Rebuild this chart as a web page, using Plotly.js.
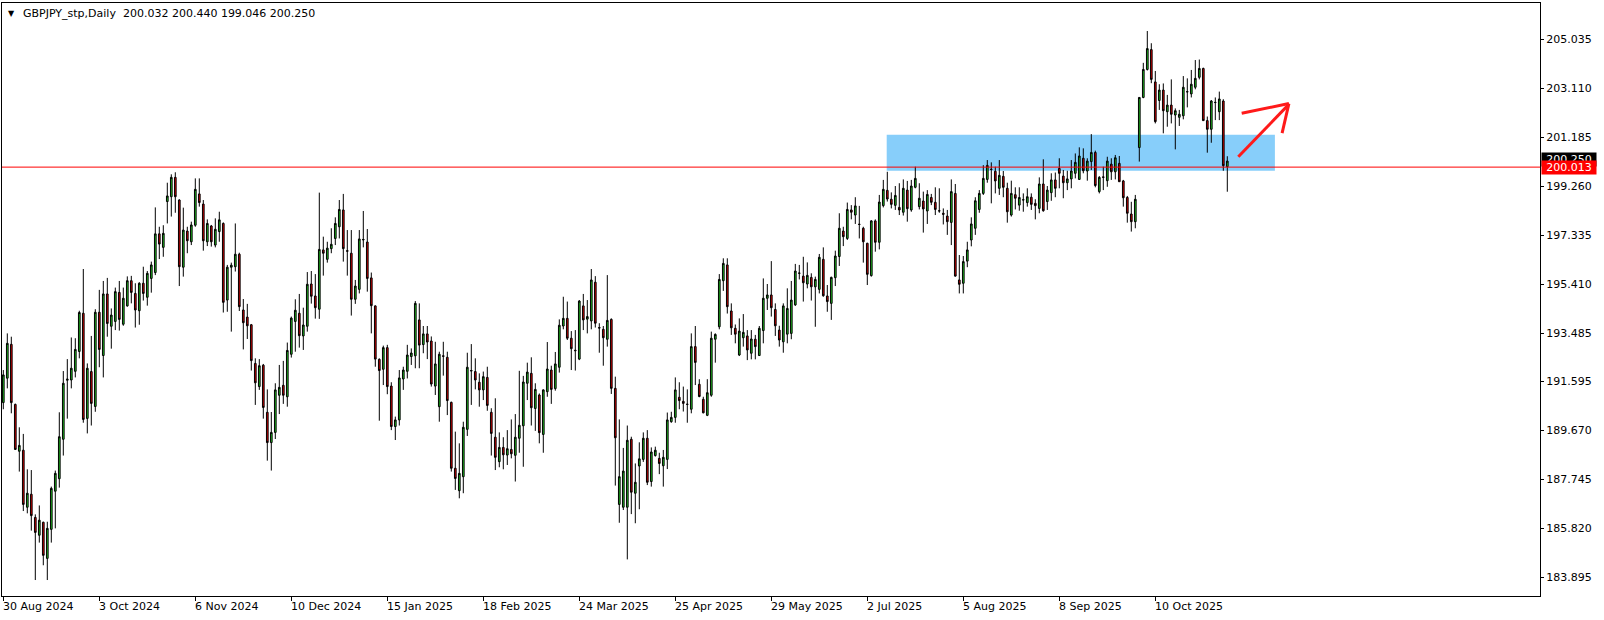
<!DOCTYPE html>
<html><head><meta charset="utf-8">
<script src="https://cdn.plot.ly/plotly-3.0.1.min.js"></script>
<style>html,body{margin:0;padding:0;background:#fff;overflow:hidden}#chart{width:1604px;height:620px}</style>
</head><body><div id="chart"></div>
<script>
const symbolTitle = "GBPJPY_stp,Daily";
const titleValues = ["200.032", "200.440", "199.046", "200.250"];

const openP = [190.76,191.72,193.05,190.69,188.85,188.89,186.65,187.16,186.25,185.55,186.06,184.64,185.78,187.28,187.77,189.32,191.64,191.65,191.99,192.77,
194.27,190.14,191.98,190.61,194.31,192.61,195.03,193.76,193.95,195.09,193.84,194.56,195.55,195.05,194.37,195.45,194.90,195.64,195.87,197.39,
196.86,198.66,198.85,199.61,198.72,196.08,197.50,197.08,197.73,198.96,198.56,197.08,197.70,196.95,197.48,197.80,194.79,196.08,196.10,196.59,
194.40,194.12,193.82,192.30,191.39,192.23,190.38,189.19,189.59,191.05,191.44,190.99,192.66,193.95,194.27,193.38,193.76,195.42,194.95,194.43,
196.76,196.39,196.81,197.21,197.67,198.33,196.73,196.63,194.82,195.21,197.15,197.07,195.66,194.56,192.46,192.07,192.92,191.41,189.82,190.08,
191.69,191.99,192.57,192.60,194.01,193.04,193.46,193.18,191.41,190.60,192.60,192.54,190.77,188.18,187.30,187.85,189.71,192.00,191.98,191.56,
191.26,191.75,190.38,189.40,188.44,189.00,188.70,188.92,188.69,189.36,189.85,191.52,191.91,190.53,191.06,189.51,191.19,192.04,191.31,192.15,
193.77,194.07,193.29,192.82,192.47,194.56,194.04,193.97,195.49,193.71,193.64,193.25,194.03,191.32,186.76,186.65,186.65,189.32,187.20,188.27,
188.53,189.36,187.66,188.68,188.57,188.28,188.53,190.01,190.18,190.97,190.81,190.70,190.50,192.96,191.48,190.89,190.26,191.05,193.25,193.74,
195.55,196.17,194.36,193.68,192.63,193.31,193.38,192.70,193.25,192.61,193.59,194.86,194.99,194.42,193.61,193.15,193.45,193.48,194.60,195.84,
195.73,195.42,195.68,195.31,195.21,196.39,194.95,194.66,195.67,196.50,197.50,197.21,198.33,198.13,197.77,197.61,197.02,195.75,197.90,197.06,
198.50,199.10,198.75,198.51,198.43,198.24,199.11,198.33,199.22,198.46,198.68,198.29,198.82,198.63,198.30,198.20,198.09,197.84,198.98,195.58,
195.45,196.32,197.15,197.61,198.35,198.98,199.53,199.93,199.85,199.18,199.65,199.18,198.13,198.93,198.52,198.72,198.62,198.83,198.59,198.39,
199.35,198.66,199.01,199.51,199.96,199.66,199.40,199.55,199.77,199.53,200.36,199.86,200.23,200.59,199.05,199.63,199.48,200.13,199.83,200.16,
199.47,198.82,198.17,197.87,200.78,202.75,203.85,204.63,203.36,202.63,203.04,202.19,202.45,202.06,201.97,202.03,202.98,202.89,203.15,203.54,
203.89,201.84,201.50,202.56,202.19,202.61,200.032];

const highP = [192.04,193.48,193.35,190.72,189.79,189.53,188.14,188.11,186.37,186.72,186.08,186.08,187.46,188.09,190.38,192.00,192.47,193.32,193.29,194.37,
196.01,192.30,193.38,194.43,195.19,195.54,195.66,194.46,195.28,195.54,195.28,195.72,195.74,195.45,195.49,196.10,195.93,196.30,198.43,197.67,
197.73,199.40,199.73,199.81,198.75,198.42,197.67,197.87,199.57,199.57,198.72,197.96,197.74,198.00,198.26,197.84,196.17,196.26,197.80,196.65,
194.83,194.64,193.85,192.50,192.47,192.28,191.28,190.39,191.52,192.24,192.40,193.12,194.14,194.82,195.03,194.49,195.89,195.93,195.81,199.01,
197.28,197.08,197.61,198.04,198.72,198.96,197.54,197.54,195.58,197.54,198.29,197.58,195.87,194.58,192.50,193.00,193.03,191.56,190.21,192.04,
192.17,193.03,192.89,194.75,194.66,193.77,193.77,193.36,193.15,192.76,193.15,192.76,190.80,189.62,189.16,190.01,192.72,193.06,192.50,191.91,
191.98,192.17,190.54,190.93,189.59,189.40,189.68,190.10,190.31,192.01,191.81,192.33,192.54,191.52,191.12,191.28,193.14,192.21,192.75,194.03,
194.92,194.73,193.57,193.61,194.79,195.03,194.79,196.01,195.73,193.88,193.77,195.77,194.07,191.78,190.10,188.98,189.86,189.42,188.37,189.20,
189.59,189.68,189.00,189.03,188.79,188.90,190.37,190.40,191.75,191.56,191.39,191.28,193.48,193.77,191.68,190.99,191.68,193.55,193.48,195.81,
196.43,196.43,194.66,193.83,194.07,194.24,193.61,193.61,193.42,193.77,195.64,195.42,196.32,194.66,193.78,194.66,195.25,195.54,196.21,196.17,
196.49,196.27,195.84,195.71,196.60,196.86,195.38,195.71,196.73,198.20,197.67,198.62,198.52,198.83,198.49,197.67,197.04,197.93,197.96,198.92,
199.51,199.83,199.02,199.27,199.38,199.53,199.47,199.51,200.03,199.38,199.05,199.11,198.96,199.22,199.18,198.39,198.33,199.53,199.35,196.56,
196.52,197.08,198.04,198.83,199.11,200.09,200.29,200.20,200.03,200.29,199.86,199.40,199.48,199.22,199.22,198.98,199.18,198.98,198.75,199.61,
200.32,199.27,199.77,199.80,200.36,199.90,199.87,200.29,200.55,200.79,200.75,200.36,201.31,200.66,199.66,200.03,200.42,200.36,200.49,200.45,
199.51,198.88,198.65,198.92,202.75,204.11,205.36,204.88,203.79,203.27,203.30,202.85,203.46,202.32,202.26,203.59,203.50,203.83,204.22,204.24,
203.92,202.00,202.65,202.75,202.98,202.68,200.440];

const lowP = [190.50,191.32,190.34,188.90,188.05,186.50,186.41,185.73,183.79,185.26,184.37,183.79,185.26,185.82,187.42,188.68,190.13,191.32,191.75,192.50,
189.97,189.55,189.86,190.40,192.15,191.75,193.35,192.88,193.61,193.59,193.78,194.53,194.66,193.71,193.82,194.77,194.57,195.08,195.77,196.40,
196.49,197.80,198.07,198.22,195.34,195.71,196.63,196.95,197.67,198.46,196.73,196.91,196.89,196.86,197.08,194.30,194.33,193.55,195.91,194.36,
192.85,193.26,192.02,190.67,191.26,190.13,188.48,188.09,189.33,190.31,190.71,190.60,192.53,192.76,192.92,192.83,193.55,194.65,194.06,194.05,
195.75,196.26,196.63,196.95,197.21,196.30,195.75,194.18,194.64,195.05,196.86,195.12,193.48,192.17,190.05,191.45,191.09,189.68,189.29,189.86,
191.26,191.71,192.24,192.11,192.11,192.70,192.47,191.39,191.06,190.01,191.82,190.27,188.05,187.33,187.00,187.20,189.45,190.67,191.28,190.60,
190.86,190.44,188.68,188.11,188.22,188.14,188.31,188.57,187.66,188.79,188.24,190.86,189.86,189.65,189.16,188.79,190.99,190.71,191.23,191.94,
193.64,193.22,192.04,192.02,192.43,193.61,193.48,193.64,193.71,192.72,192.21,192.96,191.10,187.50,186.04,186.54,184.60,186.38,186.02,186.57,
188.43,187.52,187.46,188.64,187.95,187.46,188.15,189.97,189.97,190.50,190.41,189.97,190.34,191.45,190.97,190.34,190.23,190.99,192.33,193.64,
195.15,194.26,193.42,193.09,192.59,192.96,192.43,192.46,192.46,192.59,193.09,194.40,194.14,193.38,192.96,192.72,193.09,193.25,194.56,195.60,
194.73,195.25,194.77,193.74,195.05,194.92,194.33,194.01,195.34,196.13,196.91,197.15,197.96,197.78,197.21,196.26,195.38,195.71,196.69,196.78,
198.43,198.66,198.39,198.33,198.13,198.11,197.87,198.26,199.18,198.35,197.44,197.78,198.52,198.13,198.22,197.76,197.35,196.95,195.71,195.05,
195.05,196.08,196.90,197.35,198.22,198.92,199.40,198.59,198.98,198.92,198.83,197.83,198.07,198.35,198.30,198.26,198.46,198.33,197.96,198.20,
198.26,198.33,198.69,198.83,199.18,198.79,199.11,199.18,199.57,199.51,199.77,199.48,199.90,199.22,198.98,199.11,199.24,199.51,199.53,199.44,
198.46,197.83,197.48,197.61,200.23,202.72,203.81,203.31,201.73,202.26,201.34,201.60,201.73,200.71,201.63,201.89,202.36,202.75,203.07,203.46,
201.84,200.58,200.97,201.86,201.86,199.87,199.046];

const closeP = [191.85,193.09,190.76,188.92,189.08,186.76,187.20,186.32,185.66,186.14,184.76,185.82,187.39,187.98,189.42,191.52,191.68,192.11,192.85,194.30,
190.10,192.11,190.73,194.31,192.85,195.03,193.87,194.20,195.12,194.03,194.86,195.55,195.09,194.40,195.45,195.05,195.84,196.17,197.39,196.99,
197.41,198.88,199.61,198.85,196.10,197.54,197.12,197.74,199.14,198.62,197.12,197.80,197.08,197.57,197.94,194.70,196.08,196.16,196.59,194.53,
193.90,193.78,192.41,191.54,192.21,190.57,189.19,189.59,191.26,191.36,191.05,192.81,194.08,194.39,193.39,193.81,195.41,194.94,194.49,196.78,
196.63,196.83,196.98,197.80,198.35,196.81,196.71,194.82,195.34,197.19,197.17,195.64,194.57,192.47,192.02,192.92,191.39,189.82,190.08,191.73,
192.04,192.63,192.71,194.66,193.02,193.46,193.14,191.49,192.28,192.66,192.58,190.84,188.18,187.78,187.98,189.79,192.15,192.02,191.65,191.26,
191.78,190.65,189.55,188.61,189.00,188.71,188.95,188.75,189.40,189.87,191.57,191.96,190.56,191.28,189.58,191.26,192.08,191.28,192.28,193.80,
194.07,193.29,192.88,192.80,194.75,194.01,194.14,195.58,193.88,193.69,193.31,193.99,191.32,189.38,187.85,188.07,189.28,187.24,187.63,188.55,
189.36,187.63,188.82,188.89,188.37,188.61,190.08,190.18,191.26,190.84,190.73,190.69,192.96,192.34,191.00,190.36,191.15,193.29,193.44,195.60,
196.23,194.53,193.70,193.45,193.57,193.52,192.83,193.26,192.96,193.68,194.86,194.99,194.49,193.78,193.22,194.56,194.46,194.79,195.93,195.85,
195.47,195.76,195.31,195.60,196.47,194.96,194.73,195.68,196.52,197.61,197.28,198.35,198.24,198.49,197.76,197.08,195.80,197.90,197.06,198.64,
199.14,198.76,198.55,198.90,198.33,199.18,198.38,199.27,199.57,198.79,198.37,198.94,198.63,198.35,198.29,198.16,197.87,199.05,195.73,195.41,
196.30,196.76,197.78,198.69,198.98,199.57,200.08,199.92,199.47,199.69,199.22,198.26,198.98,198.79,198.82,198.73,198.85,198.55,198.50,199.35,
198.30,199.11,199.51,199.18,199.77,199.40,199.55,199.86,200.20,200.45,199.87,200.25,200.59,199.29,199.61,199.61,200.25,199.83,200.38,199.44,
198.81,198.20,197.87,198.75,202.75,203.85,204.67,203.46,201.80,203.04,202.23,202.45,202.09,202.23,202.09,203.15,202.97,203.27,203.50,203.89,
201.84,201.50,202.61,202.55,202.69,200.07,200.250];

const dateLabels = ["30 Aug 2024","3 Oct 2024","6 Nov 2024","10 Dec 2024","15 Jan 2025","18 Feb 2025","24 Mar 2025",
  "25 Apr 2025","29 May 2025","2 Jul 2025","5 Aug 2025","8 Sep 2025","10 Oct 2025"];
const barsPerLabel = 24;
const priceTicks = [205.035,203.110,201.185,199.260,197.335,195.410,193.485,191.595,189.670,187.745,185.820,183.895];
const lineLevel = 200.013;
const lastPrice = 200.250;
const zoneHigh = 201.28, zoneLow = 199.87;
const zoneStartBar = 220.85, zoneEndBar = 317.9;

const xs = openP.map((_, i) => i);
const labelBars = dateLabels.map((_, k) => k * barsPerLabel);
const FONT = 'DejaVu Sans, Verdana, sans-serif';

const trace = {
  type: 'candlestick', x: xs, open: openP, high: highP, low: lowP, close: closeP,
  increasing: {line: {color: '#000000', width: 1}, fillcolor: '#22cc22'},
  decreasing: {line: {color: '#000000', width: 1}, fillcolor: '#dd0000'},
  whiskerwidth: 0, hoverinfo: 'skip', showlegend: false
};

const annotations = [];
dateLabels.forEach((t, k) => {
  annotations.push({x: labelBars[k], xref: 'x', y: 0, yref: 'paper', yanchor: 'top', xanchor: 'left',
    xshift: -2, yshift: -2, text: t, showarrow: false, font: {family: FONT, size: 11, color: '#000'}});
});
annotations.push({x: 0.0026, xref: 'paper', y: 0.9826, yref: 'paper', xanchor: 'left', yanchor: 'middle',
  text: '\u25BC', showarrow: false, font: {family: FONT, size: 8, color: '#000'}});
annotations.push({x: 0.0124, xref: 'paper', y: 0.9826, yref: 'paper', xanchor: 'left', yanchor: 'middle',
  text: symbolTitle + '\u00a0\u00a0' + titleValues.join('\u00a0'), showarrow: false,
  font: {family: FONT, size: 11, color: '#000'}});
annotations.push({x: 1, xref: 'paper', y: lastPrice, yref: 'y', xanchor: 'left', yanchor: 'middle',
  xshift: 1, yshift: 2, text: lastPrice.toFixed(3), showarrow: false, bgcolor: '#000000', width: 54, height: 13,
  borderpad: 0, align: 'center', font: {family: FONT, size: 11, color: '#ffffff'}});
annotations.push({x: 1, xref: 'paper', y: lineLevel, yref: 'y', xanchor: 'left', yanchor: 'middle',
  xshift: 1, text: lineLevel.toFixed(3), showarrow: false, bgcolor: '#ff0000', width: 54, height: 13,
  borderpad: 0, align: 'center', font: {family: FONT, size: 11, color: '#ffffff'}});

const arrowColor = '#ff1a1a';
const shapes = [
  {type: 'rect', xref: 'x', yref: 'y', x0: zoneStartBar, x1: zoneEndBar, y0: zoneLow, y1: zoneHigh,
   fillcolor: '#87cefa', line: {width: 0}, layer: 'below'},
  {type: 'line', xref: 'paper', yref: 'y', x0: 0, x1: 1, y0: lineLevel, y1: lineLevel,
   line: {color: '#ff0000', width: 1}, layer: 'above'},
  {type: 'line', xref: 'x', yref: 'y', x0: 308.75, y0: 200.42, x1: 321.2, y1: 202.45, line: {color: arrowColor, width: 3}},
  {type: 'line', xref: 'x', yref: 'y', x0: 309.6, y0: 202.13, x1: 321.4, y1: 202.51, line: {color: arrowColor, width: 3}},
  {type: 'line', xref: 'x', yref: 'y', x0: 321.4, y0: 202.51, x1: 319.7, y1: 201.35, line: {color: arrowColor, width: 3}}
];

const layout = {
  width: 1604, height: 620,
  margin: {l: 2, r: 64, t: 3, b: 24, pad: 0},
  paper_bgcolor: '#ffffff', plot_bgcolor: '#ffffff',
  font: {family: FONT, size: 11, color: '#000'},
  boxgap: 0.4,
  showlegend: false,
  xaxis: {range: [-0.325, 384.175], showgrid: false, zeroline: false, showline: true, linecolor: '#000',
    linewidth: 1, mirror: true, ticks: 'outside', ticklen: 4, tickcolor: '#000', tickwidth: 1,
    tickmode: 'array', tickvals: labelBars, showticklabels: false, rangeslider: {visible: false}, fixedrange: true},
  yaxis: {side: 'right', range: [183.162, 206.461], showgrid: false, zeroline: false, showline: true,
    linecolor: '#000', linewidth: 1, mirror: true, ticks: 'outside', ticklen: 3, tickcolor: '#000',
    tickmode: 'array', tickvals: priceTicks, ticktext: priceTicks.map(v => v.toFixed(3)),
    tickfont: {family: FONT, size: 11, color: '#000'}, fixedrange: true},
  shapes: shapes,
  annotations: annotations
};

Plotly.newPlot('chart', [trace], layout, {staticPlot: true, displayModeBar: false});
</script>
</body></html>
